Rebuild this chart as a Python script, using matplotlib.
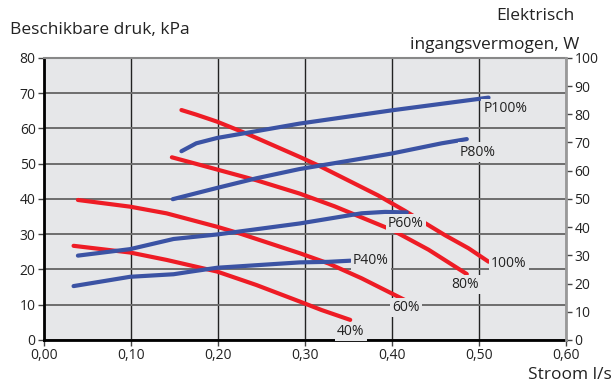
import numpy as np
import matplotlib
matplotlib.use("Agg")
import matplotlib.pyplot as plt
from matplotlib.ticker import FuncFormatter, MultipleLocator

plt.rcParams['font.family'] = ['Open Sans', 'DejaVu Sans']

# pump curves, available pressure (kPa) vs flow (l/s)
x100 = [0.158, 0.175, 0.199, 0.233, 0.294, 0.317, 0.384, 0.415, 0.461, 0.488, 0.511]
y100 = [65.2, 63.9, 61.9, 58.5, 51.9, 49.3, 41.0, 36.6, 29.7, 26.0, 22.2]
x80 = [0.147, 0.195, 0.244, 0.294, 0.334, 0.400, 0.442, 0.486]
y80 = [51.8, 48.6, 45.3, 41.5, 37.9, 31.2, 25.6, 18.7]
x60 = [0.039, 0.099, 0.141, 0.199, 0.225, 0.294, 0.327, 0.365, 0.415]
y60 = [39.7, 37.8, 35.9, 32.1, 30.2, 24.6, 21.7, 17.5, 11.3]
x40 = [0.034, 0.099, 0.141, 0.199, 0.244, 0.294, 0.319, 0.352]
y40 = [26.7, 24.8, 22.7, 19.4, 15.6, 10.9, 8.5, 5.7]

# electrical input power (W) vs flow
px100 = [0.158, 0.175, 0.199, 0.244, 0.294, 0.400, 0.511]
p100 = [66.9, 69.7, 71.6, 74.0, 76.7, 81.4, 85.9]
px80 = [0.148, 0.199, 0.244, 0.294, 0.400, 0.457, 0.486]
p80 = [49.9, 53.9, 57.3, 60.6, 66.1, 69.7, 71.2]
px60 = [0.039, 0.099, 0.149, 0.199, 0.294, 0.365, 0.392, 0.417]
p60 = [29.9, 32.2, 35.8, 37.4, 41.3, 44.9, 45.4, 45.2]
px40 = [0.034, 0.099, 0.149, 0.168, 0.199, 0.294, 0.327, 0.352]
p40 = [19.1, 22.4, 23.3, 24.2, 25.6, 27.5, 27.7, 28.1]

face = '#e6e7e9'
red = '#ee1c25'
blue = '#3b53a4'

fig = plt.figure(figsize=(6.16, 3.83), dpi=100)
ax = fig.add_axes([0.0714, 0.1123, 0.8474, 0.7367])
ax.set_facecolor(face)
ax.set_xlim(0, 0.6)
ax.set_ylim(0, 80)
ax.xaxis.set_major_locator(MultipleLocator(0.1))
ax.yaxis.set_major_locator(MultipleLocator(10))
ax.xaxis.set_major_formatter(FuncFormatter(lambda v, p: ('%.2f' % v).replace('.', ',')))
ax.grid(axis='x', color='#222222', lw=1.0)
ax.grid(axis='y', color='#6d6d6d', lw=1.4)
ax.set_axisbelow(True)
ax.tick_params(labelsize=10, color='#444444', length=4, width=1, pad=2, labelcolor='#222222')
ax.spines['left'].set_linewidth(2)
ax.spines['bottom'].set_linewidth(2)
ax.spines['top'].set_color('#888888')
ax.spines['top'].set_linewidth(1.5)
ax.spines['right'].set_visible(False)

for xs, ys in [(x100, y100), (x80, y80), (x60, y60), (x40, y40)]:
    ax.plot(xs, ys, color=red, lw=3, solid_capstyle='round', zorder=3)

ax2 = ax.twinx()
ax2.set_ylim(0, 100)
ax2.yaxis.set_major_locator(MultipleLocator(10))
ax2.tick_params(labelsize=10, color='#444444', length=4, width=1, pad=2, labelcolor='#222222')
for s in ['left', 'bottom', 'top']:
    ax2.spines[s].set_visible(False)
ax2.spines['right'].set_color('#999999')
ax2.spines['right'].set_linewidth(2)

for xs, ys in [(px100, p100), (px80, p80), (px60, p60), (px40, p40)]:
    ax2.plot(xs, ys, color=blue, lw=3, solid_capstyle='round', zorder=3)

box = dict(facecolor=face, edgecolor='none', pad=1.5)
labels = [('P100%', 0.505, 65.7), ('P80%', 0.478, 53.3), ('P60%', 0.395, 33.1),
          ('P40%', 0.355, 22.4), ('100%', 0.514, 21.8), ('80%', 0.468, 15.8),
          ('60%', 0.400, 9.1), ('40%', 0.337, 2.3)]
for t, lx, ly in labels:
    ax2.text(lx, ly * 1.25, t, fontsize=10, color='#222222', ha='left', va='center',
             bbox=box, zorder=4)

fig.text(0.016, 0.922, 'Beschikbare druk, kPa', fontsize=12.5, color='#222222', va='center')
fig.text(0.932, 0.958, 'Elektrisch', fontsize=12.5, color='#222222', ha='right', va='center')
fig.text(0.94, 0.883, 'ingangsvermogen, W', fontsize=12.5, color='#222222', ha='right', va='center')
fig.text(0.857, 0.02, 'Stroom l/s', fontsize=12.5, color='#222222', ha='left', va='center')

fig.savefig('out.png', dpi=100, facecolor='white')
